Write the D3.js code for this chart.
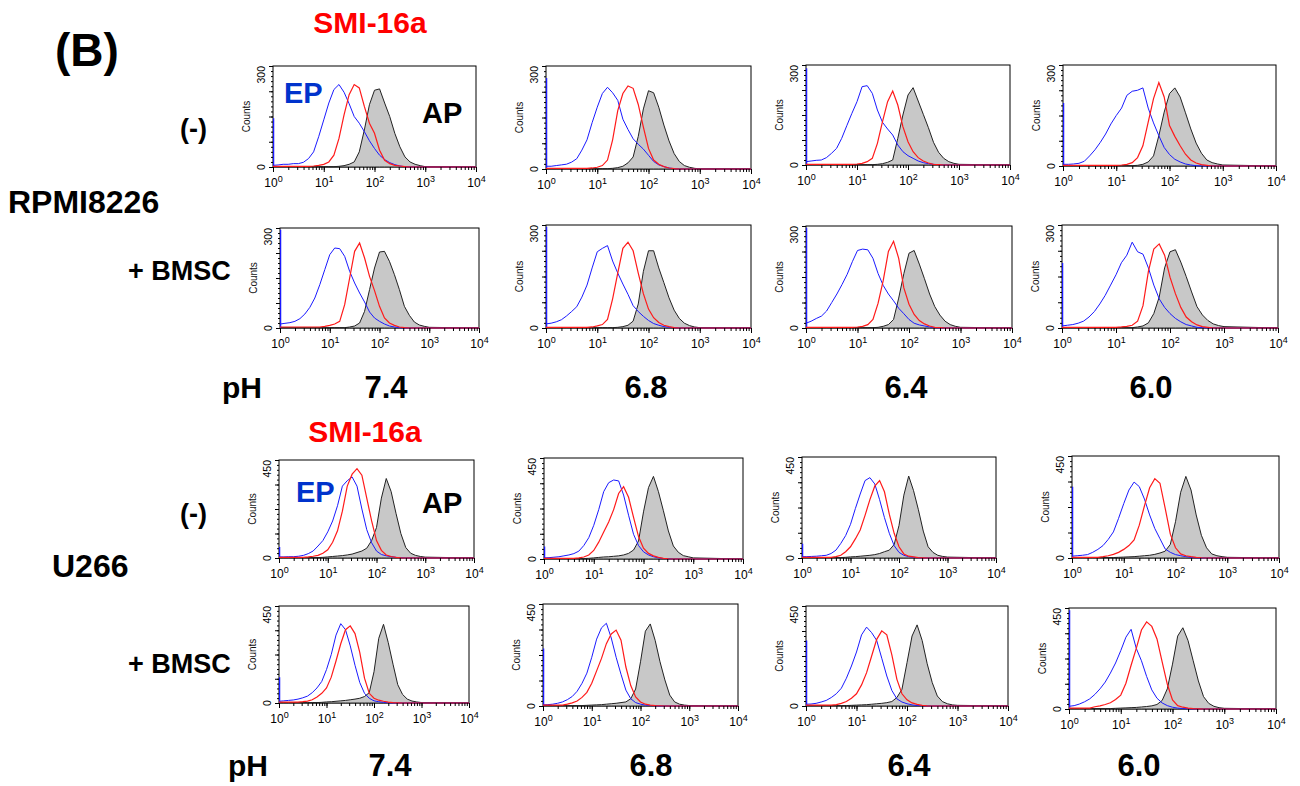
<!DOCTYPE html>
<meta charset="utf-8">
<script src="https://d3js.org/d3.v7.min.js"></script>
<style>
  body { margin: 0; background: #fff; }
  text { font-family: "Liberation Sans", Arial, Helvetica, sans-serif; }
</style>
<div id="fig"></div>
<script>
  // log10 fluorescence positions of the histogram readings (channel 10^0 .. 10^3)
  const bins = [0, 0.1, 0.2, 0.3, 0.4, 0.5, 0.6, 0.7, 0.8, 0.9, 1, 1.1, 1.2, 1.3, 1.4, 1.5,
    1.6, 1.7, 1.8, 1.9, 2, 2.1, 2.2, 2.3, 2.4, 2.5, 2.6, 2.7, 2.8, 2.9, 3];

  const cellLines = ["RPMI8226", "U266"];
  const conditions = ["(-)", "+ BMSC"];
  const phLevels = ["7.4", "6.8", "6.4", "6.0"];
  const countMax = [300, 450];           // y-axis top per cell line
  const xTicks = [1, 10, 100, 1000, 10000];

  // panels are row-major: RPMI (-), RPMI +BMSC, U266 (-), U266 +BMSC; pH 7.4, 6.8, 6.4, 6.0
  // EP (blue)
  const epCounts = [
    [5,6,8,8,10,10,14,25,45,90,140,190,230,245,222,188,150,130,105,78,55,35,22,13,7,3,1,0,0,0,0],
    [8,8,10,12,14,20,30,55,85,135,180,220,238,222,200,145,115,88,72,58,40,22,12,7,3,1,0,0,0,0,0],
    [10,12,14,15,22,35,50,80,118,155,190,235,238,215,165,128,108,90,60,40,28,20,12,7,4,2,1,0,0,0,0],
    [5,5,6,8,14,30,48,70,95,125,150,172,210,222,225,232,172,128,90,55,34,20,12,6,3,1,0,0,0,0,0],
    [12,14,16,20,28,42,62,90,130,175,220,240,238,215,170,135,105,78,48,30,20,12,6,3,1,0,0,0,0,0,0],
    [12,14,18,24,35,48,62,90,125,175,222,232,240,195,160,128,98,65,48,34,22,13,8,4,2,1,0,0,0,0,0],
    [14,20,28,35,50,75,100,128,158,195,228,232,230,205,160,125,100,80,58,42,25,14,9,6,3,1,0,0,0,0,0],
    [6,8,10,14,20,32,48,70,95,125,155,190,212,250,222,215,175,125,85,60,42,28,18,10,6,2,1,0,0,0,0],
    [5,5,6,6,8,12,20,32,55,80,120,170,240,330,355,372,330,225,130,70,32,16,10,6,3,1,0,0,0,0,0],
    [5,6,8,10,14,18,24,35,60,95,150,220,300,340,352,348,285,195,110,60,32,18,10,5,2,1,0,0,0,0,0],
    [6,6,7,8,10,12,20,35,65,100,150,220,285,345,358,330,260,180,110,55,25,12,6,3,1,0,0,0,0,0,0],
    [8,10,12,15,25,38,55,82,115,175,240,300,335,315,260,190,130,85,40,25,15,10,6,3,1,0,0,0,0,0,0],
    [8,10,12,14,18,24,32,48,70,100,155,225,315,368,340,265,175,95,45,22,10,6,3,1,0,0,0,0,0,0,0],
    [5,6,8,12,18,28,42,65,100,145,215,295,345,365,300,215,140,70,32,15,8,4,2,1,0,0,0,0,0,0,0],
    [8,9,12,18,25,38,55,80,125,180,243,320,355,330,295,215,135,70,32,18,10,5,2,1,0,0,0,0,0,0,0],
    [12,15,22,32,45,65,90,120,160,205,260,320,355,270,215,145,85,48,27,15,8,4,2,1,0,0,0,0,0,0,0]
  ];
  // events piled up in the first channel of the EP trace
  const epEdge = [145, 265, 290, 187, 295, 295, 295, 189, 50, 56, 64, 314, 120, 254, 295, 440];

  // SMI-16a (red)
  const smiCounts = [
    [2,2,2,2,2,2,2,2,3,5,8,15,35,85,155,215,245,235,180,130,100,50,20,10,5,3,1,0,0,0,0],
    [2,2,2,2,2,2,2,2,2,3,5,10,26,85,170,220,242,235,188,122,60,26,14,7,3,1,0,0,0,0,0],
    [2,2,2,2,2,2,2,2,2,2,3,5,10,20,65,130,190,222,180,115,70,40,22,12,6,2,1,0,0,0,0],
    [2,2,2,2,2,2,2,2,2,2,2,3,5,10,25,60,130,200,248,205,120,88,60,35,18,9,4,2,0,0,0],
    [3,3,3,3,3,3,3,3,3,5,8,12,20,70,150,230,255,210,155,112,65,30,15,8,3,1,0,0,0,0,0],
    [2,2,2,2,2,2,2,2,2,3,6,10,25,85,160,232,250,225,160,100,55,30,16,8,4,1,0,0,0,0,0],
    [2,2,2,2,2,2,2,2,2,2,3,5,10,25,73,140,225,255,205,118,70,40,22,12,6,2,1,0,0,0,0],
    [2,2,2,2,2,2,2,2,2,2,2,3,5,8,20,65,165,230,245,212,148,100,60,32,18,9,4,2,0,0,0],
    [3,3,3,3,3,3,5,8,12,22,38,72,125,215,330,385,410,380,275,170,80,35,14,7,3,1,0,0,0,0,0],
    [3,3,3,3,3,3,3,5,9,18,38,75,120,165,220,292,322,275,185,100,48,25,14,7,3,1,0,0,0,0,0],
    [3,3,3,3,3,3,3,6,12,28,50,85,125,190,260,320,345,295,195,110,50,18,8,5,2,1,0,0,0,0,0],
    [3,3,3,3,3,3,6,10,16,25,38,55,80,145,230,310,350,330,220,105,45,18,10,6,3,1,0,0,0,0,0],
    [4,4,4,4,4,6,9,15,28,45,70,120,195,275,340,358,322,235,115,45,22,13,8,4,2,1,0,0,0,0,0],
    [4,4,4,4,4,8,14,22,38,60,100,155,210,275,318,335,290,172,90,40,18,8,4,2,1,0,0,0,0,0,0],
    [4,4,4,4,4,4,6,12,20,35,55,95,150,225,300,338,320,230,120,55,28,14,7,3,1,0,0,0,0,0,0],
    [4,4,4,4,4,10,14,20,28,42,62,115,195,270,352,388,368,312,210,110,40,15,8,4,2,1,0,0,0,0,0]
  ];

  // AP (grey filled)
  const apCounts = [
    [1,1,1,1,1,1,1,1,1,1,1,1,1,2,4,8,15,45,110,185,228,232,190,150,100,60,30,15,8,4,1],
    [1,1,1,1,1,1,1,1,1,1,1,1,1,2,4,8,18,35,95,175,228,222,180,128,82,45,22,10,5,2,0],
    [1,1,1,1,1,1,1,1,1,1,1,1,1,1,2,4,8,15,80,150,210,232,192,152,112,68,38,20,10,5,2],
    [1,1,1,1,1,1,1,1,1,1,1,1,1,1,2,5,12,30,90,160,215,232,205,158,110,68,38,18,10,6,3],
    [1,1,1,1,1,1,1,1,1,1,1,1,1,1,3,6,15,50,115,180,228,230,200,160,115,65,38,18,9,5,2],
    [1,1,1,1,1,1,1,1,1,1,1,1,1,1,2,4,8,20,70,165,225,225,175,132,88,52,28,14,7,3,1],
    [1,1,1,1,1,1,1,1,1,1,1,1,1,1,2,5,10,25,88,160,220,228,188,145,100,63,38,20,10,5,2],
    [1,1,1,1,1,1,1,1,1,1,1,1,1,1,3,6,15,42,90,175,222,228,192,150,105,62,38,22,12,7,4],
    [2,2,2,2,2,2,2,2,2,3,5,7,9,11,14,18,25,32,45,80,140,275,365,305,205,112,48,22,12,7,4],
    [2,2,2,2,2,2,2,2,2,3,5,7,9,10,12,14,18,25,40,80,210,318,368,300,215,125,58,30,15,10,5],
    [2,2,2,2,2,2,2,2,2,3,5,6,8,10,12,15,20,28,35,60,145,280,365,300,215,120,50,25,12,7,4],
    [2,2,2,2,2,2,2,2,2,3,4,5,6,8,10,12,16,22,30,60,160,290,360,300,190,100,45,18,10,6,3],
    [2,2,2,2,2,2,2,2,2,3,5,6,8,10,12,15,18,22,30,48,145,300,365,280,180,85,40,18,9,5,2],
    [2,2,2,2,2,2,2,2,2,3,4,5,6,8,10,12,15,18,32,75,195,330,362,290,195,115,48,18,8,4,2],
    [2,2,2,2,2,2,2,2,2,3,4,5,6,8,10,12,15,20,38,75,195,315,365,295,190,105,45,20,10,5,3],
    [2,2,2,2,2,2,2,2,2,3,4,5,6,7,9,11,14,20,38,90,200,325,362,305,215,125,55,25,12,6,3]
  ];

  // layout: plot box of each panel [left, top, right, bottom]
  const boxes = [
    [273, 66, 476, 167], [546, 66, 751, 169], [806, 65, 1010, 165], [1063, 65, 1276, 166],
    [280, 228, 479, 328], [546, 225, 751, 328], [806, 226, 1012, 328], [1062, 225, 1278, 328],
    [279, 460, 474, 558], [544, 458, 743, 559], [802, 457, 996, 558], [1072, 456, 1279, 558],
    [279, 606, 469, 703], [543, 604, 738, 706], [806, 606, 1008, 706], [1069, 608, 1276, 709]
  ];

  const width = 1300, height = 786;
  const svg = d3.select("#fig").append("svg")
    .attr("width", width)
    .attr("height", height);
  svg.append("rect").attr("width", width).attr("height", height).attr("fill", "#fff");

  const blue = "#1a1aff", red = "#ff1a1a";

  boxes.forEach((b, i) => {
    const [x0, y0, x1, y1] = b;
    const line = Math.floor(i / 8);
    const ymax = countMax[line];

    const x = d3.scaleLog().domain([1, 10000]).range([x0, x1]);
    const y = d3.scaleLinear().domain([0, ymax]).range([y1, y0]);

    const g = svg.append("g");
    const clipId = "clip" + i;
    g.append("clipPath").attr("id", clipId)
      .append("rect").attr("x", x0).attr("y", y0 - 1).attr("width", x1 - x0 + 1).attr("height", y1 - y0 + 2);

    // frame
    g.append("rect")
      .attr("x", x0).attr("y", y0).attr("width", x1 - x0).attr("height", y1 - y0)
      .attr("fill", "none").attr("stroke", "#000").attr("stroke-width", 1);

    const pts = vals => bins.map((bv, k) => [Math.pow(10, bv), vals[k]]).concat([[10000, 0]]);

    const area = d3.area().x(d => x(d[0])).y0(y(0)).y1(d => y(d[1]));
    const path = d3.line().x(d => x(d[0])).y(d => y(d[1]));

    const plot = g.append("g").attr("clip-path", `url(#${clipId})`);
    plot.append("path").attr("d", area(pts(apCounts[i])))
      .attr("fill", "#c8c8c8").attr("stroke", "#222").attr("stroke-width", 1);
    plot.append("line")
      .attr("x1", x(1) + 0.5).attr("x2", x(1) + 0.5).attr("y1", y(0)).attr("y2", y(epEdge[i]))
      .attr("stroke", blue).attr("stroke-width", 1.5);
    plot.append("path").attr("d", path(pts(epCounts[i])))
      .attr("fill", "none").attr("stroke", blue).attr("stroke-width", 1);
    plot.append("path").attr("d", path(pts(smiCounts[i])))
      .attr("fill", "none").attr("stroke", red).attr("stroke-width", 1.2);

    // x axis: minor ticks then decades
    const minor = x.ticks();
    g.append("g").attr("transform", `translate(0,${y1})`)
      .call(d3.axisBottom(x).tickValues(minor).tickSize(3).tickFormat("").tickSizeOuter(0))
      .call(a => a.select(".domain").remove());
    const xa = g.append("g").attr("transform", `translate(0,${y1})`)
      .call(d3.axisBottom(x).tickValues(xTicks).tickSize(5).tickFormat("").tickSizeOuter(0));
    xa.select(".domain").remove();
    xa.selectAll(".tick").append("text")
      .attr("y", 20).attr("fill", "#000").attr("text-anchor", "middle")
      .attr("font-size", 12)
      .each(function (d) {
        const t = d3.select(this);
        t.append("tspan").text("10");
        t.append("tspan").attr("dy", -5).attr("font-size", 9).text(Math.round(Math.log10(d)));
      });

    // y axis
    g.append("g").attr("transform", `translate(${x0},0)`)
      .call(d3.axisLeft(y).tickValues(d3.range(0, ymax + 1, ymax / 20)).tickSize(2).tickFormat("").tickSizeOuter(0))
      .call(a => a.select(".domain").remove());
    g.append("g").attr("transform", `translate(${x0},0)`)
      .call(d3.axisLeft(y).tickValues(d3.range(0, ymax + 1, ymax / 4)).tickSize(4).tickFormat("").tickSizeOuter(0))
      .call(a => a.select(".domain").remove());

    g.append("text")
      .attr("transform", `translate(${x0 - 8},${y0}) rotate(-90)`)
      .attr("text-anchor", "end").attr("font-size", 10.5)
      .text(ymax);
    g.append("text")
      .attr("transform", `translate(${x0 - 8},${y1}) rotate(-90)`)
      .attr("text-anchor", "middle").attr("font-size", 10.5)
      .text(0);
    g.append("text")
      .attr("transform", `translate(${x0 - 23},${(y0 + y1) / 2}) rotate(-90)`)
      .attr("text-anchor", "middle").attr("font-size", 10).attr("fill", "#111")
      .text("Counts");
  });

  // figure labels
  const bold = (sel, txt, px, x, y, anchor, fill) => sel.append("text")
    .attr("x", x).attr("y", y).attr("font-size", px).attr("font-weight", "bold")
    .attr("text-anchor", anchor || "start").attr("fill", fill || "#000").text(txt);

  bold(svg, "(B)", 46, 55, 66);

  const phCenters = [[386, 646, 906, 1151], [390, 651, 909, 1139]];
  cellLines.forEach((name, r) => {
    bold(svg, "SMI-16a", 30, r ? 365 : 370, r ? 442 : 33, "middle", "#ff0000");
    bold(svg, "EP", 29, r ? 296 : 284, r ? 502 : 103, "start", "#0033cc");
    bold(svg, "AP", 29, 422, r ? 513 : 123, "start");
    bold(svg, conditions[0], 27, 180, r ? 523 : 138);
    bold(svg, conditions[1], 27, 128, r ? 673 : 280);
    bold(svg, name, 32, r ? 52 : 8, r ? 577 : 213);
    bold(svg, "pH", 30, r ? 228 : 222, r ? 776 : 398);
    phLevels.forEach((p, c) => bold(svg, p, 31, phCenters[r][c], r ? 776 : 398, "middle"));
  });
</script>
